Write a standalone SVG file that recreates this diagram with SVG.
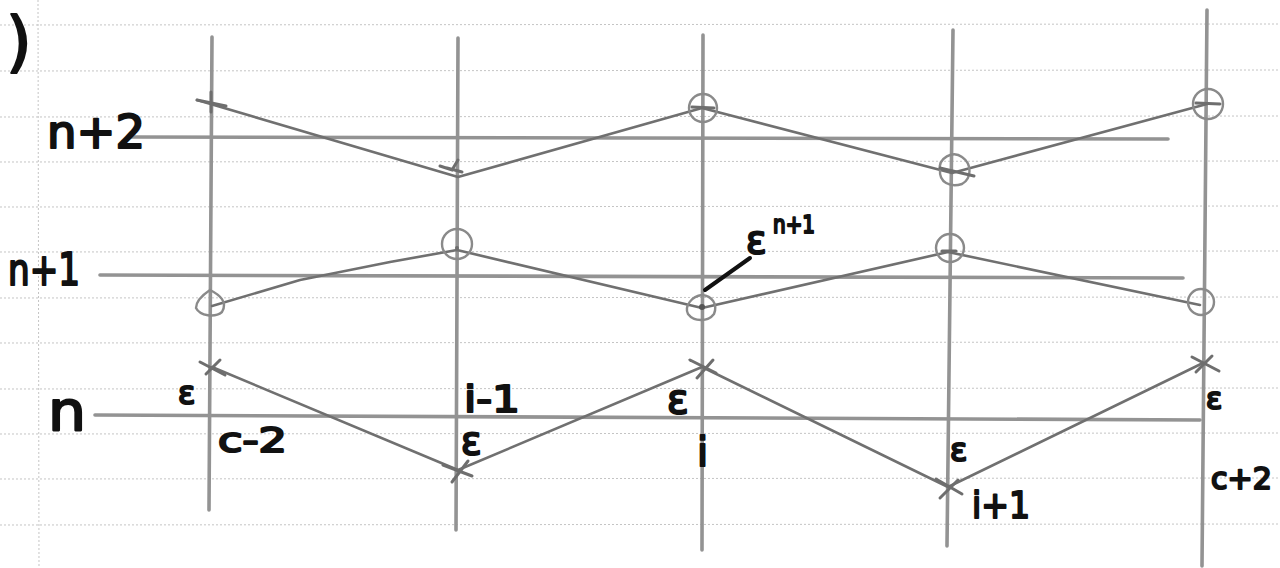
<svg xmlns="http://www.w3.org/2000/svg" width="1280" height="568" viewBox="0 0 1280 568">
<style>
.grid{stroke:#c4c4c4;stroke-width:1;stroke-dasharray:2 2;fill:none}
.pen{stroke:#939393;stroke-width:3.6;fill:none;stroke-linecap:round}
.zig{stroke:#707070;stroke-width:2.6;fill:none;stroke-linecap:round;stroke-linejoin:round}
.circ{stroke:#8a8a8a;stroke-width:2.4;fill:none}
.mark{stroke:#6e6e6e;stroke-width:3;fill:none;stroke-linecap:round}
.lbl{font-family:"DejaVu Sans",sans-serif;fill:#111;stroke:#111;stroke-width:2.2;stroke-linejoin:round}
.lead{stroke:#111;stroke-width:4;stroke-linecap:round;fill:none}
</style>
<rect width="1280" height="568" fill="#ffffff"/>
<g id="paper-grid">
<line class="grid" x1="0" y1="25" x2="1280" y2="24"/>
<line class="grid" x1="0" y1="71" x2="1280" y2="70"/>
<line class="grid" x1="0" y1="117" x2="1280" y2="116"/>
<line class="grid" x1="0" y1="162" x2="1280" y2="161"/>
<line class="grid" x1="0" y1="207" x2="1280" y2="206"/>
<line class="grid" x1="0" y1="252" x2="1280" y2="251"/>
<line class="grid" x1="0" y1="298" x2="1280" y2="297"/>
<line class="grid" x1="0" y1="343" x2="1280" y2="342"/>
<line class="grid" x1="0" y1="389" x2="1280" y2="388"/>
<line class="grid" x1="0" y1="434" x2="1280" y2="433"/>
<line class="grid" x1="0" y1="479" x2="1280" y2="478"/>
<line class="grid" x1="0" y1="525" x2="1280" y2="524"/>
<line class="grid" x1="38" y1="0" x2="39" y2="568"/>
</g>
<g id="axes">
<line class="pen" x1="212" y1="37" x2="209" y2="510"/>
<line class="pen" x1="458" y1="38" x2="456" y2="530"/>
<line class="pen" x1="703" y1="35" x2="702" y2="550"/>
<line class="pen" x1="953" y1="30" x2="947" y2="546"/>
<line class="pen" x1="1207" y1="10" x2="1202" y2="566"/>
<line class="pen" x1="130" y1="137" x2="1168" y2="139"/>
<line class="pen" x1="100" y1="275" x2="1183" y2="278"/>
<line class="pen" x1="95" y1="415" x2="1200" y2="420"/>
</g>
<g id="connectors">
<polyline class="zig" points="197,100 458,177 702,108 952,173 1207,104"/>
<polyline class="zig" points="212,306 300,280 390,262 457,250 702,308 948,252 1200,305"/>
<polyline class="zig" points="212,367 458,470 702,367 948,487 1203,363"/>
<line class="lead" x1="705" y1="290" x2="750" y2="258"/>
</g>
<g id="node-n2-c-2"><line class="mark" x1="197" y1="100" x2="226" y2="106"/><line class="mark" x1="211" y1="92" x2="211" y2="112"/></g>
<g id="node-n2-i-1"><path class="mark" d="M440,166 L452,170 L458,160 M447,168 L462,172"/></g>
<g id="node-n2-i"><circle class="circ" cx="703" cy="108" r="14"/><line class="mark" x1="692" y1="107" x2="714" y2="108"/></g>
<g id="node-n2-i+1"><path class="circ" d="M940,170 C938,158 953,150 962,157 C972,164 972,178 962,184 C950,188 939,182 940,170 Z"/><line class="mark" x1="940" y1="168" x2="974" y2="176"/></g>
<g id="node-n2-c+2"><circle class="circ" cx="1208" cy="104" r="15"/><line class="mark" x1="1196" y1="103" x2="1220" y2="104"/></g>
<g id="node-n1-c-2"><path class="circ" d="M210,290 C220,295 228,302 222,312 C215,318 200,316 196,308 C196,300 204,294 210,290 Z"/></g>
<g id="node-n1-i-1"><circle class="circ" cx="457" cy="244" r="15"/><circle cx="457" cy="248" r="2" fill="#6e6e6e"/></g>
<g id="node-n1-i"><path class="circ" d="M702,295 C712,296 718,304 714,314 C708,322 694,322 688,314 C684,306 692,296 702,295 Z"/><circle cx="702" cy="307" r="3" fill="#555"/></g>
<g id="node-n1-i+1"><circle class="circ" cx="950" cy="248" r="14"/><line class="mark" x1="942" y1="251" x2="956" y2="251"/></g>
<g id="node-n1-c+2"><circle class="circ" cx="1201" cy="302" r="13"/></g>
<g id="node-n-c-2"><line class="mark" x1="200" y1="362" x2="225" y2="375"/><line class="mark" x1="220" y1="360" x2="206" y2="374"/></g>
<g id="node-n-i-1"><line class="mark" x1="443" y1="465" x2="472" y2="476"/><line class="mark" x1="468" y1="461" x2="452" y2="482"/></g>
<g id="node-n-i"><line class="mark" x1="690" y1="360" x2="716" y2="373"/><line class="mark" x1="713" y1="360" x2="697" y2="378"/></g>
<g id="node-n-i+1"><line class="mark" x1="936" y1="479" x2="962" y2="494"/><line class="mark" x1="958" y1="480" x2="940" y2="498"/></g>
<g id="node-n-c+2"><line class="mark" x1="1192" y1="357" x2="1219" y2="371"/><line class="mark" x1="1212" y1="356" x2="1196" y2="372"/></g>
<g id="labels">
<text class="lbl" x="6" y="64" font-size="66" stroke-width="3.5">)</text>
<text class="lbl" x="47" y="148" font-size="46" textLength="98" lengthAdjust="spacingAndGlyphs">n+2</text>
<text class="lbl" x="8" y="285" font-size="44" textLength="72" lengthAdjust="spacingAndGlyphs">n+1</text>
<text class="lbl" x="48" y="430" font-size="56" textLength="38" lengthAdjust="spacingAndGlyphs">n</text>
<text class="lbl" x="178" y="404" font-size="32">ε</text>
<text class="lbl" x="218" y="452" font-size="34" textLength="69" lengthAdjust="spacingAndGlyphs">c-2</text>
<text class="lbl" x="464" y="412" font-size="38" textLength="56" lengthAdjust="spacingAndGlyphs">i-1</text>
<text class="lbl" x="461" y="454" font-size="38">ε</text>
<text class="lbl" x="667" y="413" font-size="40">ε</text>
<text class="lbl" x="697" y="466" font-size="40">i</text>
<text class="lbl" x="950" y="461" font-size="32">ε</text>
<text class="lbl" x="972" y="518" font-size="38" textLength="58" lengthAdjust="spacingAndGlyphs">i+1</text>
<text class="lbl" x="1206" y="409" font-size="30">ε</text>
<text class="lbl" x="1211" y="489" font-size="30">c+2</text>
<text class="lbl" x="746" y="253" font-size="38">ε</text>
<text class="lbl" x="773" y="233" font-size="24" textLength="42" lengthAdjust="spacingAndGlyphs">n+1</text>
</g>
</svg>
